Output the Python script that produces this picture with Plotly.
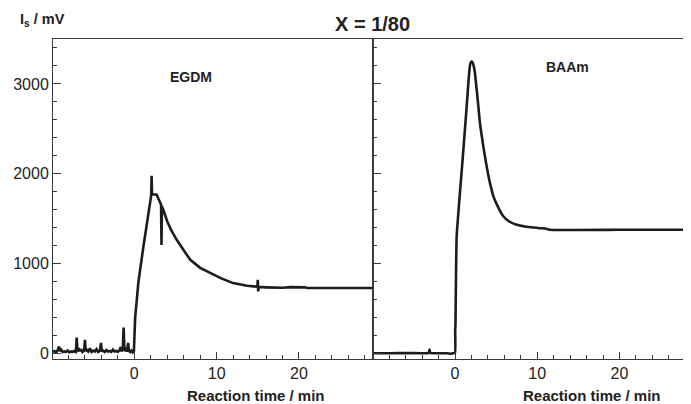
import plotly.graph_objects as go

# EGDM (left panel)
egdm_t = [-9.9, -9.7, -9.5, -9.3, -9.15, -9.05, -8.9, -8.7, -8.5, -8.3, -8.1, -7.9, -7.7, -7.5, -7.3,
          -7.1, -7.0, -6.9, -6.75, -6.6, -6.45, -6.3, -6.1, -6.0, -5.9, -5.75, -5.6, -5.4, -5.2, -5.0,
          -4.8, -4.6, -4.4, -4.2, -4.05, -3.95, -3.8, -3.6, -3.4, -3.2, -3.0, -2.8, -2.6, -2.4, -2.2,
          -2.0, -1.8, -1.65, -1.55, -1.4, -1.3, -1.2, -1.05, -0.9, -0.75, -0.65, -0.5, -0.35, -0.2, -0.05,
          0.1, 0.5, 1.1, 1.8, 2.05, 2.1, 2.15, 2.7, 3.0, 3.25, 3.3, 3.35, 3.6, 4.0, 4.5, 5.15,
          6.0, 6.8, 8.0, 9.2, 10.5, 12.0, 13.7, 14.95, 15.0, 15.05, 15.1, 16.0, 18.0, 19.0, 20.0, 20.7,
          21.0, 25.0, 29.0]
egdm_v = [20, 30, 15, 40, 80, 30, 45, 20, 25, 20, 35, 15, 25, 20, 30,
          20, 180, 25, 60, 30, 50, 20, 35, 155, 30, 40, 25, 60, 20, 35,
          25, 50, 20, 30, 120, 25, 35, 20, 40, 25, 30, 20, 45, 25, 30,
          20, 40, 75, 25, 60, 290, 30, 50, 25, 120, 30, 20, 35, 15, 30,
          400, 800, 1190, 1650, 1760, 1980, 1770, 1770, 1700, 1660, 1210, 1640, 1580, 1470, 1370, 1267,
          1150, 1044, 955, 897, 840, 785, 755, 745, 822, 692, 742, 738, 733, 740, 742, 738,
          730, 730, 730]

# BAAm (right panel)
baam_t = [-9.9, -8.0, -6.0, -4.0, -3.2, -3.1, -3.0, -2.0, -1.0, -0.4, -0.3, 0.0, 0.02, 0.05, 0.2,
          0.9, 1.42, 1.7, 1.85, 2.0, 2.15, 2.3, 2.43, 2.84, 3.04, 3.45, 3.86, 4.25, 4.67, 5.3, 5.9,
          6.6, 7.5, 8.5, 9.5, 10.3, 11.0, 11.5, 20.0, 29.0]
baam_v = [5, 5, 8, 5, 8, 45, 8, 5, 5, 0, 5, 10, 270, 300, 1300,
          2130, 2750, 3100, 3220, 3250, 3240, 3190, 3120, 2750, 2560, 2300, 2080, 1900, 1750, 1620, 1526,
          1470, 1433, 1415, 1403, 1396, 1393, 1378, 1378, 1378]

line_col = '#1c1c1c'
axis_col = '#3a3a3a'
fnt = dict(family='Liberation Sans, Arial', size=16, color='#222')

fig = go.Figure()
fig.add_trace(go.Scatter(x=egdm_t, y=egdm_v, mode='lines',
                         line=dict(color=line_col, width=2.6), xaxis='x', yaxis='y'))
fig.add_trace(go.Scatter(x=baam_t, y=baam_v, mode='lines',
                         line=dict(color=line_col, width=2.6, shape='spline', smoothing=0.4),
                         xaxis='x2', yaxis='y2'))

x_common = dict(
    range=[-9.88, 29.0], tickvals=[0, 10, 20], ticks='inside', ticklen=7, tickcolor=axis_col,
    minor=dict(ticks='inside', dtick=2, tick0=0, ticklen=4, tickcolor=axis_col),
    showline=True, linecolor=axis_col, linewidth=1, mirror=True, showgrid=False,
    zeroline=False, tickfont=fnt, fixedrange=True,
)
y_common = dict(
    range=[-59, 3500], tickvals=[0, 1000, 2000, 3000], ticks='inside', ticklen=8, tickcolor=axis_col,
    minor=dict(ticks='inside', dtick=200, tick0=0, ticklen=4, tickcolor=axis_col),
    showline=True, linecolor=axis_col, linewidth=1, showgrid=False, zeroline=False,
    tickfont=fnt,
)

# the page puts the plot 8 px in from the top-left corner
fig.update_layout(
    width=683, height=396,
    margin=dict(l=45, r=0, t=31, b=45),
    plot_bgcolor='white', paper_bgcolor='white',
    showlegend=False,
    xaxis=dict(domain=[0, 0.5016], anchor='y', **x_common),
    xaxis2=dict(domain=[0.5016, 1], anchor='y2', **{**x_common, 'range': [-9.97, 28.7]}),
    yaxis=dict(domain=[0, 1], anchor='x', mirror=True, **y_common),
    yaxis2=dict(domain=[0, 1], anchor='x2', mirror=False, showticklabels=False, **y_common),
)

ann_font = dict(family='Liberation Sans, Arial', color='#222')
annotations = [
    dict(text='<b>X = 1/80</b>', x=0.5, y=1.047, size=20),
    dict(text='<b>I<sub>s</sub> / mV</b>', x=-0.0549, y=1.059, size=14.5, xanchor='left'),
    dict(text='<b>EGDM</b>', x=0.2163, y=0.881, size=14),
    dict(text='<b>BAAm</b>', x=0.807, y=0.9125, size=14),
    dict(text='<b>Reaction time / min</b>', x=0.318, y=-0.1125, size=15),
    dict(text='<b>Reaction time / min</b>', x=0.845, y=-0.1125, size=15),
]
for a in annotations:
    fig.add_annotation(
        text=a['text'], x=a['x'], y=a['y'], xref='paper', yref='paper',
        xanchor=a.get('xanchor', 'center'), yanchor='middle', showarrow=False,
        font=dict(size=a['size'], **ann_font),
    )

fig.write_html("out.html")
